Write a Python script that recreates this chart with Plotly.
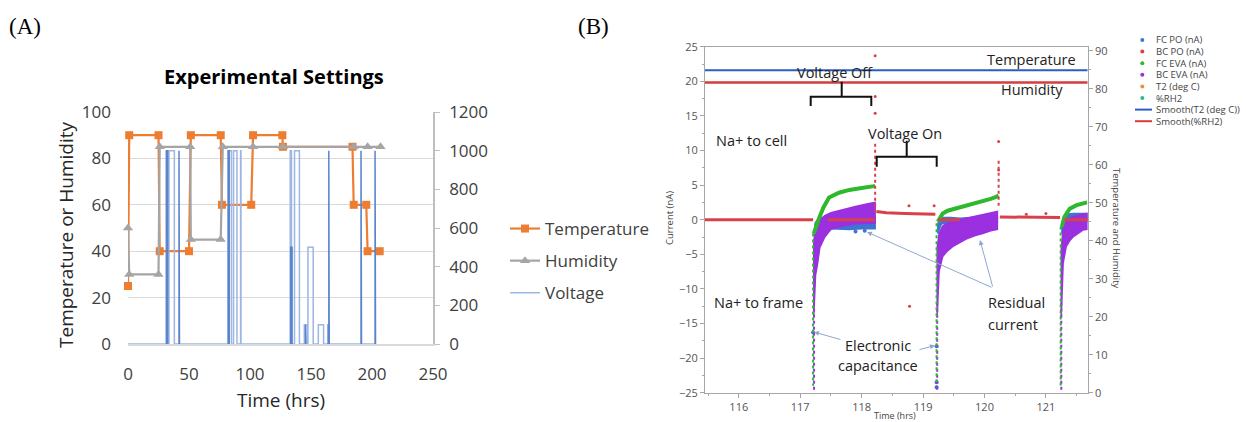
import plotly.graph_objects as go

W, H = 1246, 422

def PX(x):
    return x / W

def PY(y):
    return 1 - y / H

# ---------------- Panel A data ----------------
temp_t = [0, 1, 25, 26, 50, 51.5, 76, 77, 101, 102.5, 126.5, 127, 184, 185, 195.3, 196.4, 206.3]
temp_v = [25, 90, 90, 40, 40, 90, 90, 60, 60, 90, 90, 85, 85, 60, 60, 40, 40]

hum_t = [0, 1, 25, 26, 51, 51.5, 76, 77.7, 102.5, 127, 185, 196.4, 207]
hum_v = [50, 30, 30, 85, 85, 45, 45, 85, 85, 85, 85, 85, 85]

# voltage pulses (on time, off time, level) - light and dark strokes
volt_light_on = [33.6, 82.0, 86.5, 92.3, 133.0, 136.5, 144.5, 147.5, 156.0]
volt_light_off = [38.0, 84.8, 89.3, 92.6, 134.0, 140.5, 147.0, 151.8, 160.3]
volt_light_lvl = [1000, 1000, 1000, 1000, 1000, 1000, 100, 500, 100]
volt_end = 203

volt_dark_on = [31.4, 41.8, 82.2, 133.3, 145.5, 164.0, 164.6, 191.0, 202.5]
volt_dark_off = [32.6, 42.2, 83.0, 134.5, 145.9, 164.8, 164.9, 191.4, 202.9]
volt_dark_lvl = [1000, 1000, 1000, 500, 100, 100, 1000, 1000, 1000]

# ---------------- Panel B data ----------------
green_t = [117.22, 117.26, 117.31, 117.38, 117.47, 117.63, 117.80, 117.95, 118.07, 118.20, 118.22, None,
           119.24, 119.28, 119.32, 119.40, 119.48, 119.60, 119.70, 119.85, 119.97, 120.10, 120.19, 120.23, None,
           121.26, 121.30, 121.35, 121.39, 121.50, 121.58, 121.67]
green_v = [-2.0, -0.8, 0.3, 1.8, 3.2, 3.9, 4.3, 4.5, 4.6, 4.85, 4.9, None,
           -0.3, 0.4, 0.9, 1.3, 1.5, 1.7, 1.9, 2.3, 2.6, 3.0, 3.3, 3.5, None,
           -1.0, 0.4, 1.1, 1.6, 2.1, 2.3, 2.5]
green_drop_t = [117.21, 117.21, None, 119.22, 119.22, None, 121.24, 121.24]
green_drop_v = [-2, -24, None, -0.5, -24, None, -1, -24]

purple_c1_t = [117.22, 117.25, 117.28, 117.32, 117.40, 117.50, 117.70, 117.90, 118.10, 118.22]
purple_c1_hi = [-3, -1.5, -0.5, 0.0, 0.6, 1.0, 1.5, 1.9, 2.3, 2.5]
purple_c1_lo = [-14, -8, -6.5, -4, -2.5, -1.4, -0.9, -0.6, -0.5, -0.5]
purple_c2_t = [119.23, 119.26, 119.32, 119.40, 119.48, 119.60, 119.70, 119.85, 119.97, 120.10, 120.21]
purple_c2_hi = [-4, -2, -0.9, -0.5, -0.3, 0.0, 0.2, 0.5, 0.7, 1.0, 1.2]
purple_c2_lo = [-14, -7.5, -5.3, -4.5, -3.9, -3.3, -2.8, -2.3, -2.0, -1.6, -1.4]
purple_c3_t = [121.25, 121.28, 121.33, 121.39, 121.44, 121.52, 121.60, 121.67]
purple_c3_hi = [-4, -1.5, 0.0, 0.2, 0.4, 0.6, 0.8, 0.9]
purple_c3_lo = [-14, -6.3, -3.9, -3.0, -2.5, -2.0, -1.5, -1.4]
purple_drop_t = [117.225, 117.225, None, 119.23, 119.23, None, 121.25, 121.25]
purple_drop_v = [-12, -25, None, -12, -25, None, -12, -25]

blue_c1_t = [117.24, 117.30, 117.50, 117.80, 118.00, 118.22]
blue_c1_hi = [-0.5, 0.2, 0.3, 0.3, 0.4, 0.5]
blue_c1_lo = [-3.0, -1.3, -1.3, -1.4, -1.3, -1.3]
blue_c2_t = [119.24, 119.30, 119.45, 119.60, 119.80, 120.00, 120.21]
blue_c2_hi = [-0.5, 0.3, 0.3, 0.2, 0.3, 0.3, 0.3]
blue_c2_lo = [-2.0, -0.6, -0.5, -0.5, -0.4, -0.3, -0.3]
blue_c3_t = [121.26, 121.32, 121.45, 121.67]
blue_c3_hi = [-0.5, 0.8, 0.9, 0.9]
blue_c3_lo = [-2.0, -0.4, -0.3, -0.2]
blue_pts_t = [117.21, 119.22, 119.22, 119.22, 118.05, 117.9]
blue_pts_v = [-16.3, -18.3, -23.5, -24.2, -1.6, -1.7]

red_t = [115.45, 116.0, 116.5, 117.0, 117.21, None, 117.45, 117.8, 118.22, None,
         118.24, 118.4, 118.7, 119.0, 119.2, None, 119.25, 119.6, None,
         120.25, 120.6, 121.0, 121.23, None, 121.3, 121.68]
red_v = [0, 0, 0, 0, 0, None, 0, 0, 0, None,
         1.2, 1.0, 0.9, 0.85, 0.8, None, 0, 0, None,
         0.4, 0.35, 0.3, 0.3, None, 0, 0]
red_spike_t = [118.22, 118.22, None, 120.23, 120.23]
red_spike_v = [1, 11, None, 2, 8.6]
red_pts_t = [118.22, 118.22, 118.22, 120.23, 120.23, 118.77, 119.18, 118.78, 120.68, 121.0]
red_pts_v = [15.4, 17.8, 23.7, 11.3, 7.2, 2.0, 2.0, -12.5, 0.8, 0.9]

smooth_t = [115.45, 121.68]
smooth_temp = [84.9, 84.9]
smooth_rh = [81.7, 81.7]

legendB_labels = ["FC PO (nA)", "BC PO (nA)", "FC EVA (nA)", "BC EVA (nA)", "T2 (deg C)", "%RH2",
                  "Smooth(T2 (deg C))", "Smooth(%RH2)"]
legendB_colors = ["#3F74D3", "#D9404A", "#2EB82E", "#9A30E0", "#E8903A", "#2FB59B", "#2B5EC2", "#D63C3C"]
legendB_kind = ["dot", "dot", "dot", "dot", "dot", "dot", "line", "line"]

ORANGE = "#ED7D31"
GRAY = "#A5A5A5"
VLIGHT = "#9DB6E4"
VDARK = "#5B84CF"

FONT = "Open Sans, sans-serif"

fig = go.Figure()

# ---- Panel A traces ----
fig.add_trace(go.Scatter(x=temp_t, y=temp_v, mode="lines+markers", name="Temperature",
                         line=dict(color=ORANGE, width=2.2),
                         marker=dict(symbol="square", size=8, color=ORANGE),
                         xaxis="x", yaxis="y", cliponaxis=False, legendgroup="a1"))
fig.add_trace(go.Scatter(x=hum_t, y=hum_v, mode="lines+markers", name="Humidity",
                         line=dict(color=GRAY, width=2.2),
                         marker=dict(symbol="triangle-up", size=9, color=GRAY),
                         xaxis="x", yaxis="y", cliponaxis=False, legendgroup="a2"))

vx, vy = [0], [0]
for a, b, l in zip(volt_light_on, volt_light_off, volt_light_lvl):
    vx += [a, a, b, b]
    vy += [0, l, l, 0]
vx.append(volt_end)
vy.append(0)
fig.add_trace(go.Scatter(x=vx, y=vy, mode="lines", name="Voltage",
                         line=dict(color=VLIGHT, width=1.5),
                         xaxis="x", yaxis="y2", legendgroup="a3"))
dx, dy = [], []
for a, b, l in zip(volt_dark_on, volt_dark_off, volt_dark_lvl):
    dx += [a, a, b, b, None]
    dy += [0, l, l, 0, None]
fig.add_trace(go.Scatter(x=dx, y=dy, mode="lines", showlegend=False,
                         line=dict(color=VDARK, width=1.5),
                         xaxis="x", yaxis="y2"))

# ---- Panel B traces ----
def band(ts, hi, lo):
    return ts + ts[::-1], hi + lo[::-1]

def add_band(cycles, color):
    xs, ys = [], []
    for ts, hi, lo in cycles:
        bx, by = band(ts, hi, lo)
        xs += bx + [bx[0], None]
        ys += by + [by[0], None]
    fig.add_trace(go.Scatter(x=xs, y=ys, mode="lines", fill="toself", fillcolor=color,
                             line=dict(color=color, width=1.5), showlegend=False,
                             xaxis="x2", yaxis="y3"))

add_band([(blue_c1_t, blue_c1_hi, blue_c1_lo), (blue_c2_t, blue_c2_hi, blue_c2_lo),
          (blue_c3_t, blue_c3_hi, blue_c3_lo)], legendB_colors[0])
fig.add_trace(go.Scatter(x=blue_pts_t, y=blue_pts_v, mode="markers",
                         marker=dict(color=legendB_colors[0], size=4), showlegend=False,
                         xaxis="x2", yaxis="y3"))
add_band([(purple_c1_t, purple_c1_hi, purple_c1_lo), (purple_c2_t, purple_c2_hi, purple_c2_lo),
          (purple_c3_t, purple_c3_hi, purple_c3_lo)], legendB_colors[3])
fig.add_trace(go.Scatter(x=purple_drop_t, y=purple_drop_v, mode="lines",
                         line=dict(color=legendB_colors[3], width=2, dash="dot"), showlegend=False,
                         xaxis="x2", yaxis="y3"))
fig.add_trace(go.Scatter(x=green_drop_t, y=green_drop_v, mode="lines",
                         line=dict(color=legendB_colors[2], width=2, dash="dot"), showlegend=False,
                         xaxis="x2", yaxis="y3"))
fig.add_trace(go.Scatter(x=green_t, y=green_v, mode="lines",
                         line=dict(color=legendB_colors[2], width=4), showlegend=False,
                         xaxis="x2", yaxis="y3"))
fig.add_trace(go.Scatter(x=red_t, y=red_v, mode="lines",
                         line=dict(color=legendB_colors[1], width=3), showlegend=False,
                         xaxis="x2", yaxis="y3"))
fig.add_trace(go.Scatter(x=red_spike_t, y=red_spike_v, mode="lines",
                         line=dict(color=legendB_colors[1], width=2, dash="dot"), showlegend=False,
                         xaxis="x2", yaxis="y3"))
fig.add_trace(go.Scatter(x=red_pts_t, y=red_pts_v, mode="markers",
                         marker=dict(color=legendB_colors[1], size=3), showlegend=False,
                         xaxis="x2", yaxis="y3"))
fig.add_trace(go.Scatter(x=smooth_t, y=smooth_temp, mode="lines",
                         line=dict(color=legendB_colors[6], width=2), showlegend=False,
                         xaxis="x2", yaxis="y4"))
fig.add_trace(go.Scatter(x=smooth_t, y=smooth_rh, mode="lines",
                         line=dict(color=legendB_colors[7], width=2.5), showlegend=False,
                         xaxis="x2", yaxis="y4"))

# ---- Layout ----
tickA = dict(family=FONT, size=17, color="#404040")
tickB = dict(family=FONT, size=11, color="#555555")
fig.update_layout(
    width=W, height=H, margin=dict(l=0, r=0, t=0, b=0, autoexpand=False),
    paper_bgcolor="white", plot_bgcolor="white",
    showlegend=True,
    legend=dict(x=PX(505), y=PY(211), xanchor="left", yanchor="top",
                font=dict(family=FONT, size=17, color="#404040"),
                tracegroupgap=7, itemwidth=30, bgcolor="rgba(0,0,0,0)"),
    xaxis=dict(domain=[PX(128), PX(433)], range=[0, 250], dtick=50, tick0=0, automargin=False,
               showgrid=False, zeroline=False, showline=True, linecolor="#D9D9D9", linewidth=1.5,
               ticks="", tickfont=tickA, ticklabelstandoff=14, anchor="y"),
    yaxis=dict(domain=[1 - 344 / H, 1 - 112 / H], range=[0, 100], dtick=20, automargin=False,
               showgrid=True, gridcolor="#D9D9D9", gridwidth=1.2, zeroline=False, showline=False,
               ticks="", tickfont=tickA, ticklabelstandoff=16, anchor="x"),
    yaxis2=dict(overlaying="y", side="right", anchor="x", range=[0, 1200], dtick=200, automargin=False,
                showgrid=False, zeroline=False, showline=True, linecolor="#BFBFBF", linewidth=1.5,
                ticks="outside", ticklen=5, tickcolor="#BFBFBF", tickfont=tickA, ticklabelstandoff=6),
    xaxis2=dict(domain=[PX(705), PX(1087.7)], range=[115.45, 121.68], dtick=1, tick0=116,
                anchor="y3", showgrid=False, zeroline=False, showline=True, mirror=True, automargin=False,
                linecolor="#A6A6A6", ticks="outside", ticklen=4, tickcolor="#A6A6A6",
                minor=dict(dtick=0.5, ticks="outside", ticklen=2, tickcolor="#A6A6A6"),
                tickfont=tickB),
    yaxis3=dict(domain=[1 - 392.7 / H, 1 - 46.7 / H], range=[-25, 25], dtick=5, automargin=False,
                anchor="x2", showgrid=False, zeroline=False, showline=True, mirror=True,
                linecolor="#A6A6A6", ticks="outside", ticklen=4, tickcolor="#A6A6A6",
                minor=dict(dtick=2.5, ticks="outside", ticklen=2, tickcolor="#A6A6A6"),
                tickfont=tickB),
    yaxis4=dict(overlaying="y3", side="right", anchor="x2", range=[0, 91.1], dtick=10, automargin=False,
                showgrid=False, zeroline=False, showline=True, linecolor="#A6A6A6",
                ticks="outside", ticklen=4, tickcolor="#A6A6A6",
                minor=dict(dtick=5, ticks="outside", ticklen=2, tickcolor="#A6A6A6"),
                tickfont=tickB),
)

ann = []
def text(x, y, s, size, color="#222222", family=FONT, angle=0, xanchor="center"):
    ann.append(dict(x=PX(x), y=PY(y), xref="paper", yref="paper", text=s, showarrow=False,
                    xanchor=xanchor, yanchor="middle", textangle=angle,
                    font=dict(family=family, size=size, color=color)))

text(25, 27, "(A)", 23, "#000000", "Liberation Serif, serif")
text(593, 27, "(B)", 23, "#000000", "Liberation Serif, serif")
text(274, 77, "<b>Experimental Settings</b>", 20, "#000000")
text(66, 235, "Temperature or Humidity", 19, "#262626", angle=-90)
text(281, 400, "Time (hrs)", 19, "#262626")

text(669, 218, "Current (nA)", 9.5, "#444444", angle=-90)
text(1117, 228, "Temperature and Humidity", 9.5, "#444444", angle=90)
text(895, 415.5, "Time (hrs)", 9, "#444444")

text(1031, 59, "Temperature", 14.5)
text(1032, 90, "Humidity", 14.5)
text(835, 72, "Voltage Off", 14.5)
text(905, 133, "Voltage On", 14.5)
text(752, 141, "Na+ to cell", 14.5)
text(758, 302, "Na+ to frame", 14.5)
text(878, 345, "Electronic", 14.5)
text(878, 365, "capacitance", 14.5)
text(1016, 302, "Residual", 14.5)
text(1013, 324, "current", 14.5)

def arrow(hx, hy, tx, ty):
    ann.append(dict(x=PX(hx), y=PY(hy), xref="paper", yref="paper", text="", showarrow=True,
                    ax=tx - hx, ay=ty - hy, arrowhead=2, arrowsize=1, arrowwidth=1,
                    arrowcolor="#8FA8CF"))

arrow(867, 232, 993, 288)
arrow(980, 240, 993, 288)
arrow(814, 332, 842, 340)
arrow(935, 345.5, 918, 350)

# Legend B (manual)
shapes = []
for i, (lab, col, kind) in enumerate(zip(legendB_labels, legendB_colors, legendB_kind)):
    yy = 40 + i * 11.6
    if kind == "dot":
        shapes.append(dict(type="circle", xref="paper", yref="paper",
                           x0=PX(1140.3), x1=PX(1144.3), y0=PY(yy + 2), y1=PY(yy - 2),
                           fillcolor=col, line=dict(width=0)))
    else:
        shapes.append(dict(type="line", xref="paper", yref="paper",
                           x0=PX(1135), x1=PX(1152), y0=PY(yy), y1=PY(yy),
                           line=dict(color=col, width=2)))
    text(1154, yy, lab, 9.5, "#444444", xanchor="left")

def brace(x1, x2, xm, ybar, yend, ytop):
    p = (f"M {PX(x1)},{PY(yend)} L {PX(x1)},{PY(ybar)} L {PX(x2)},{PY(ybar)} L {PX(x2)},{PY(yend)} "
         f"M {PX(xm)},{PY(ybar)} L {PX(xm)},{PY(ytop)}")
    shapes.append(dict(type="path", xref="paper", yref="paper", path=p,
                       line=dict(color="#111111", width=2)))

brace(810.7, 871.3, 841.7, 96.7, 106, 81.7)
brace(876.7, 936.7, 906.7, 156.7, 166.7, 140.7)

fig.update_layout(annotations=ann, shapes=shapes)
fig.write_html("out.html")
